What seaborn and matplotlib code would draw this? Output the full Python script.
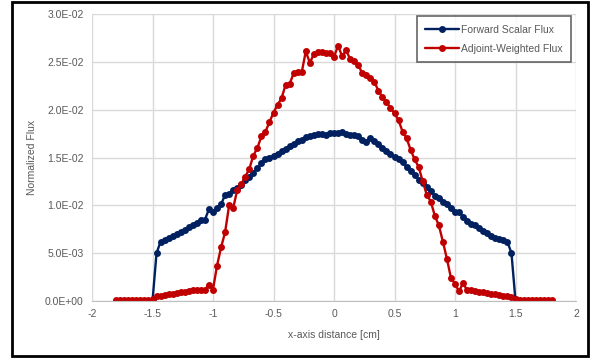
import numpy as np
import pandas as pd
import matplotlib
matplotlib.use("Agg")
import matplotlib.pyplot as plt
import seaborn as sns
from matplotlib.patches import Rectangle
from matplotlib.ticker import FuncFormatter, MultipleLocator

# === data: mesh positions and the two flux curves ===
x_cm = np.round(np.linspace(-1.8, 1.8, 109), 4)

forward_flux = [
    0, 0, 0, 0, 0, 0, 0, 0, 0, 0,
    0.0050, 0.0062, 0.0064, 0.0066, 0.0068, 0.0070, 0.0072, 0.0074, 0.0077, 0.0079,
    0.0082, 0.0085, 0.0085, 0.0096, 0.0093, 0.0097, 0.0101, 0.0111, 0.0112, 0.0116,
    0.0118, 0.0121, 0.0126, 0.0130, 0.0134, 0.0139, 0.0144, 0.0148, 0.0150, 0.0152,
    0.0154, 0.0157, 0.0159, 0.0162, 0.0164, 0.0167, 0.0168, 0.0171, 0.0172, 0.0174,
    0.0175, 0.0175, 0.0174, 0.0176, 0.0176, 0.0176, 0.0177, 0.0175, 0.0174, 0.0174,
    0.0172, 0.0168, 0.0166, 0.0170, 0.0167, 0.0164, 0.0160, 0.0157, 0.0154, 0.0151,
    0.0148, 0.0145, 0.0140, 0.0136, 0.0132, 0.0127, 0.0123, 0.0119, 0.0115, 0.0110,
    0.0108, 0.0104, 0.0101, 0.0097, 0.0093, 0.0093, 0.0088, 0.0084, 0.0081, 0.0079,
    0.0076, 0.0073, 0.0071, 0.0068, 0.0066, 0.0065, 0.0064, 0.0062, 0.0050, 0,
    0, 0, 0, 0, 0, 0, 0, 0, 0,
]

adjoint_flux = [
    0.0001, 0.0001, 0.0001, 0.0001, 0.0001, 0.0001, 0.0001, 0.0001, 0.0001, 0.0002,
    0.0005, 0.0005, 0.0006, 0.0007, 0.0007, 0.0008, 0.0009, 0.0009, 0.0010, 0.0011,
    0.0012, 0.0012, 0.0012, 0.0017, 0.0012, 0.0037, 0.0056, 0.0072, 0.0100, 0.0097,
    0.0116, 0.0122, 0.0130, 0.0138, 0.0152, 0.0160, 0.0172, 0.0177, 0.0187, 0.0197,
    0.0205, 0.0212, 0.0226, 0.0227, 0.0238, 0.0239, 0.0239, 0.0261, 0.0249, 0.0258,
    0.0260, 0.0260, 0.0259, 0.0259, 0.0255, 0.0267, 0.0256, 0.0262, 0.0253, 0.0251,
    0.0247, 0.0238, 0.0236, 0.0233, 0.0229, 0.0220, 0.0213, 0.0208, 0.0202, 0.0196,
    0.0189, 0.0177, 0.0170, 0.0158, 0.0148, 0.0140, 0.0125, 0.0111, 0.0104, 0.0089,
    0.0079, 0.0062, 0.0044, 0.0024, 0.0018, 0.0010, 0.0019, 0.0011, 0.0011, 0.0010,
    0.0009, 0.0009, 0.0008, 0.0007, 0.0007, 0.0006, 0.0005, 0.0005, 0.0004, 0.0002,
    0.0001, 0.0001, 0.0001, 0.0001, 0.0001, 0.0001, 0.0001, 0.0001, 0.0001,
]

series_names = ["Forward Scalar Flux", "Adjoint-Weighted Flux"]
series_colors = ["#002060", "#C00000"]

data = pd.DataFrame({
    "x": np.concatenate([x_cm, x_cm]),
    "flux": forward_flux + adjoint_flux,
    "series": [series_names[0]] * len(x_cm) + [series_names[1]] * len(x_cm),
})

# === style ===
sns.set_style("white")
plt.rcParams["font.family"] = ["Liberation Sans", "DejaVu Sans"]
grey = "#595959"

fig = plt.figure(figsize=(5.9, 3.58), dpi=100)
ax = fig.add_axes([92 / 590, 1 - 301 / 358, (576 - 92) / 590, (301 - 14) / 358])

sns.lineplot(data=data, x="x", y="flux", hue="series", palette=series_colors,
             hue_order=series_names, marker="o", markersize=5, markeredgewidth=0,
             linewidth=1.7, ax=ax, estimator=None, sort=False)

ax.set_xlim(-2, 2)
ax.set_ylim(0, 0.03)
ax.xaxis.set_major_locator(MultipleLocator(0.5))
ax.yaxis.set_major_locator(MultipleLocator(0.005))
ax.yaxis.set_major_formatter(FuncFormatter(lambda v, p: f"{v:.1E}"))
ax.xaxis.set_major_formatter(FuncFormatter(lambda v, p: f"{v:g}"))
ax.grid(True, color="#D9D9D9", linewidth=1)
ax.set_axisbelow(True)
for side in ["top", "right", "left"]:
    ax.spines[side].set_visible(False)
ax.spines["bottom"].set_color("#BFBFBF")
ax.tick_params(axis="both", length=0, labelsize=7.5, labelcolor=grey, pad=6)

ax.set_xlabel("x-axis distance [cm]", fontsize=7.5, color=grey, labelpad=8)
ax.set_ylabel("Normalized Flux", fontsize=7.5, color=grey, labelpad=6)

leg = ax.legend(loc="upper right", bbox_to_anchor=(1.0, 1.01), fontsize=7.5,
                frameon=True, fancybox=False, borderpad=0.8, labelspacing=0.9,
                handlelength=3.2, handletextpad=0.2)
leg.get_frame().set_edgecolor("#404040")
leg.get_frame().set_linewidth(1.2)
for t in leg.get_texts():
    t.set_color(grey)

# outer chart border
fig.patches.append(Rectangle((12 / 590, 2 / 358), (588 - 12) / 590, (356 - 2) / 358,
                             transform=fig.transFigure, fill=False,
                             edgecolor="black", linewidth=2))

fig.savefig("out.png", dpi=100)
